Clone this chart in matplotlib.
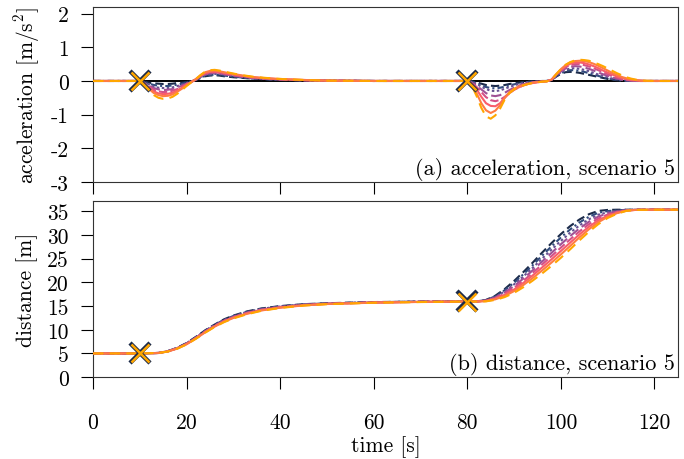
import matplotlib
matplotlib.use("Agg")
import matplotlib.pyplot as plt
import numpy as np

plt.rcParams['font.family'] = ['cmr10', 'DejaVu Serif']
plt.rcParams['mathtext.fontset'] = 'cm'
plt.rcParams['axes.unicode_minus'] = False
plt.rcParams['axes.formatter.use_mathtext'] = False

# ---------------- data ----------------
t_acc = [0, 10, 11, 12, 13, 14, 15, 16, 17, 18, 19, 20, 21,
         22, 23, 24, 25, 26, 27, 28, 30, 32, 34, 37, 40, 45, 50, 60,
         80, 81, 82, 83, 84, 85, 86, 87, 88, 89, 90, 91, 92, 93, 94, 95, 96, 97,
         98, 99, 100, 101, 102, 103, 104, 105, 106, 107, 108, 109, 110, 111, 112,
         113, 114, 115, 116, 117, 118, 120, 125]

acc_0 = [0, 0, -0.02, -0.05, -0.07, -0.08, -0.09, -0.09, -0.08, -0.06, -0.05, -0.03, -0.01,
         0.03, 0.09, 0.14, 0.16, 0.17, 0.16, 0.14, 0.11, 0.09, 0.07, 0.05, 0.03, 0.02, 0.01, 0,
         0, -0.015, -0.045, -0.08, -0.12, -0.14, -0.15, -0.14, -0.12, -0.09, -0.07, -0.05, -0.03, -0.02, -0.01, -0.01, 0, 0,
         0.03, 0.13, 0.21, 0.26, 0.27, 0.26, 0.24, 0.21, 0.18, 0.15, 0.12, 0.09, 0.06, 0.04, 0.02,
         0.01, 0.01, 0, 0, 0, 0, 0, 0]
acc_1 = [0, 0, -0.03, -0.08, -0.12, -0.14, -0.15, -0.15, -0.13, -0.11, -0.08, -0.04, -0.01,
         0.03, 0.10, 0.16, 0.18, 0.19, 0.18, 0.16, 0.13, 0.10, 0.07, 0.05, 0.03, 0.02, 0.01, 0,
         0, -0.02, -0.07, -0.12, -0.18, -0.21, -0.22, -0.20, -0.17, -0.13, -0.10, -0.07, -0.05, -0.03, -0.02, -0.01, -0.01, 0,
         0.03, 0.14, 0.23, 0.29, 0.32, 0.32, 0.30, 0.27, 0.23, 0.19, 0.15, 0.11, 0.08, 0.05, 0.03,
         0.02, 0.01, 0, 0, 0, 0, 0, 0]
acc_2 = [0, 0, -0.05, -0.11, -0.17, -0.20, -0.21, -0.21, -0.19, -0.15, -0.11, -0.06, -0.02,
         0.04, 0.12, 0.18, 0.20, 0.21, 0.20, 0.18, 0.14, 0.11, 0.08, 0.06, 0.04, 0.02, 0.01, 0,
         0, -0.03, -0.09, -0.17, -0.24, -0.29, -0.30, -0.28, -0.23, -0.18, -0.13, -0.09, -0.06, -0.04, -0.03, -0.02, -0.01, 0,
         0.03, 0.15, 0.26, 0.33, 0.37, 0.38, 0.36, 0.33, 0.29, 0.24, 0.19, 0.15, 0.11, 0.07, 0.05,
         0.03, 0.01, 0.01, 0, 0, 0, 0, 0]
acc_3 = [0, 0, -0.06, -0.14, -0.21, -0.25, -0.27, -0.26, -0.24, -0.19, -0.14, -0.08, -0.02,
         0.04, 0.13, 0.20, 0.23, 0.24, 0.23, 0.20, 0.16, 0.12, 0.09, 0.06, 0.04, 0.02, 0.01, 0,
         0, -0.05, -0.14, -0.25, -0.36, -0.43, -0.45, -0.42, -0.35, -0.27, -0.20, -0.14, -0.09, -0.06, -0.04, -0.02, -0.01, 0,
         0.03, 0.16, 0.28, 0.37, 0.42, 0.44, 0.43, 0.40, 0.36, 0.31, 0.25, 0.20, 0.15, 0.10, 0.07,
         0.04, 0.02, 0.01, 0, 0, 0, 0, 0]
acc_4 = [0, 0, -0.08, -0.17, -0.26, -0.31, -0.33, -0.32, -0.29, -0.24, -0.17, -0.09, -0.03,
         0.05, 0.14, 0.22, 0.25, 0.26, 0.24, 0.22, 0.17, 0.14, 0.10, 0.07, 0.05, 0.02, 0.01, 0,
         0, -0.06, -0.18, -0.33, -0.48, -0.57, -0.60, -0.56, -0.47, -0.36, -0.26, -0.19, -0.13, -0.08, -0.05, -0.03, -0.02, -0.01,
         0.04, 0.18, 0.31, 0.41, 0.47, 0.50, 0.50, 0.47, 0.43, 0.38, 0.32, 0.26, 0.20, 0.14, 0.10,
         0.06, 0.04, 0.02, 0.01, 0, 0, 0, 0]
acc_5 = [0, 0, -0.09, -0.21, -0.31, -0.37, -0.39, -0.38, -0.35, -0.28, -0.20, -0.11, -0.03,
         0.05, 0.15, 0.24, 0.27, 0.28, 0.26, 0.24, 0.19, 0.15, 0.11, 0.08, 0.05, 0.03, 0.01, 0,
         0, -0.08, -0.25, -0.47, -0.66, -0.74, -0.75, -0.66, -0.50, -0.36, -0.26, -0.19, -0.13, -0.09, -0.06, -0.04, -0.02, -0.01,
         0.04, 0.19, 0.33, 0.44, 0.51, 0.55, 0.55, 0.53, 0.49, 0.44, 0.38, 0.31, 0.25, 0.19, 0.13,
         0.09, 0.05, 0.03, 0.02, 0.01, 0, 0, 0]
acc_6 = [0, 0, -0.10, -0.24, -0.36, -0.42, -0.45, -0.44, -0.40, -0.32, -0.23, -0.13, -0.04,
         0.06, 0.17, 0.26, 0.30, 0.31, 0.29, 0.26, 0.21, 0.16, 0.12, 0.08, 0.06, 0.03, 0.01, 0,
         0, -0.12, -0.37, -0.66, -0.87, -0.95, -0.88, -0.72, -0.50, -0.33, -0.23, -0.16, -0.12, -0.08, -0.05, -0.03, -0.02, -0.01,
         0.04, 0.20, 0.35, 0.47, 0.55, 0.59, 0.60, 0.59, 0.56, 0.51, 0.45, 0.38, 0.31, 0.24, 0.18,
         0.12, 0.08, 0.05, 0.03, 0.01, 0, 0, 0]
acc_7 = [0, 0, -0.12, -0.28, -0.42, -0.50, -0.53, -0.52, -0.47, -0.38, -0.27, -0.15, -0.04,
         0.06, 0.18, 0.28, 0.32, 0.33, 0.31, 0.28, 0.22, 0.17, 0.13, 0.09, 0.06, 0.03, 0.01, 0,
         0, -0.15, -0.45, -0.80, -1.05, -1.12, -1.02, -0.82, -0.55, -0.36, -0.25, -0.18, -0.13, -0.09, -0.06, -0.04, -0.02, -0.01,
         0.04, 0.20, 0.35, 0.48, 0.56, 0.61, 0.63, 0.62, 0.60, 0.55, 0.50, 0.44, 0.37, 0.30, 0.23,
         0.17, 0.11, 0.07, 0.04, 0.02, 0.01, 0, 0]

t_dist = [0, 10, 14, 16, 18, 20, 22, 24, 26, 28, 30, 33, 36, 40, 45, 50, 60, 70, 80,
          82, 84, 86, 88, 90, 92, 94, 96, 98, 100, 102, 104, 106, 108, 110, 112, 114, 116, 120, 125]

dist_0 = [5, 5, 5.1, 5.5, 6.2, 7.2, 8.5, 9.9, 11.1, 12.2, 13.0, 13.9, 14.5, 15.0, 15.4, 15.6, 15.85, 15.95, 16.0,
          16.0, 16.3, 17.2, 18.6, 20.3, 22.2, 24.2, 26.3, 28.3, 30.2, 31.9, 33.3, 34.4, 35.1, 35.3, 35.35, 35.35, 35.35, 35.35, 35.35]
dist_1 = [5, 5, 5.1, 5.49, 6.17, 7.16, 8.44, 9.83, 11.03, 12.11, 12.91, 13.81, 14.43, 14.94, 15.36, 15.57, 15.83, 15.94, 15.99,
          16.0, 16.26, 17.07, 18.36, 19.94, 21.74, 23.66, 25.67, 27.61, 29.49, 31.2, 32.67, 33.87, 34.7, 35.06, 35.23, 35.31, 35.34, 35.35, 35.35]
dist_2 = [5, 5, 5.1, 5.47, 6.14, 7.11, 8.39, 9.76, 10.96, 12.03, 12.83, 13.73, 14.36, 14.89, 15.31, 15.54, 15.81, 15.93, 15.99,
          16.0, 16.21, 16.94, 18.11, 19.59, 21.29, 23.11, 25.04, 26.93, 28.77, 30.5, 32.04, 33.34, 34.3, 34.81, 35.11, 35.28, 35.34, 35.35, 35.35]
dist_3 = [5, 5, 5.1, 5.46, 6.11, 7.07, 8.33, 9.69, 10.89, 11.94, 12.74, 13.64, 14.29, 14.83, 15.27, 15.51, 15.79, 15.91, 15.98,
          15.98, 16.17, 16.81, 17.87, 19.23, 20.83, 22.57, 24.41, 26.24, 28.06, 29.8, 31.41, 32.81, 33.9, 34.57, 34.99, 35.24, 35.33, 35.35, 35.35]
dist_4 = [5, 5, 5.1, 5.44, 6.09, 7.03, 8.27, 9.61, 10.81, 11.86, 12.66, 13.56, 14.21, 14.77, 15.23, 15.49, 15.76, 15.9, 15.97,
          15.97, 16.13, 16.69, 17.63, 18.87, 20.37, 22.03, 23.79, 25.56, 27.34, 29.1, 30.79, 32.29, 33.5, 34.33, 34.87, 35.21, 35.32, 35.35, 35.35]
dist_5 = [5, 5, 5.1, 5.43, 6.06, 6.99, 8.21, 9.54, 10.74, 11.77, 12.57, 13.47, 14.14, 14.71, 15.19, 15.46, 15.74, 15.89, 15.96,
          15.97, 16.09, 16.56, 17.39, 18.51, 19.91, 21.49, 23.16, 24.87, 26.63, 28.4, 30.16, 31.76, 33.1, 34.09, 34.74, 35.17, 35.31, 35.35, 35.35]
dist_6 = [5, 5, 5.1, 5.41, 6.03, 6.94, 8.16, 9.47, 10.67, 11.69, 12.49, 13.39, 14.07, 14.66, 15.14, 15.43, 15.72, 15.87, 15.96,
          15.96, 16.04, 16.43, 17.14, 18.16, 19.46, 20.94, 22.53, 24.19, 25.91, 27.7, 29.53, 31.23, 32.7, 33.84, 34.62, 35.14, 35.31, 35.35, 35.35]
dist_7 = [5, 5, 5.1, 5.4, 6.0, 6.9, 8.1, 9.4, 10.6, 11.6, 12.4, 13.3, 14.0, 14.6, 15.1, 15.4, 15.7, 15.85, 15.95,
          15.95, 16.0, 16.3, 16.9, 17.8, 19.0, 20.4, 21.9, 23.5, 25.2, 27.0, 28.9, 30.7, 32.3, 33.6, 34.5, 35.1, 35.3, 35.35, 35.35]

event_times = [10, 80]
acc_series = [acc_0, acc_1, acc_2, acc_3, acc_4, acc_5, acc_6, acc_7]
dist_series = [dist_0, dist_1, dist_2, dist_3, dist_4, dist_5, dist_6, dist_7]

x_ticks = [0, 20, 40, 60, 80, 100, 120]
acc_ticks = [-3, -2, -1, 0, 1, 2]
dist_ticks = [0, 5, 10, 15, 20, 25, 30, 35]

# ---------------- style ----------------
colors = ['#1b2a49', '#2f4b7c', '#665191', '#a05195', '#d45087', '#f95d6a', '#ff7c43', '#ffa600']
styles = [(0, (4, 2)), (0, (3, 1.5, 1, 1.5)), (0, (1.2, 1.2)), (0, (5, 2)),
          (0, (4, 1.5)), '-', '-', (0, (5, 3))]
lw = 1.5
fs = 15.5

fig = plt.figure(figsize=(6.84, 4.6), dpi=100)
ax1 = fig.add_axes([0.136, 0.602, 0.855, 0.381])
ax2 = fig.add_axes([0.136, 0.178, 0.855, 0.383])

ax1.axhline(0, color='black', lw=1.4, zorder=1.5)
for i in range(8):
    ax1.plot(t_acc, acc_series[i], color=colors[i], ls=styles[i], lw=lw, zorder=2 + i)
    ax2.plot(t_dist, dist_series[i], color=colors[i], ls=styles[i], lw=lw, zorder=2 + i)

for i in (0, 7):
    for te in event_times:
        ya = acc_series[i][t_acc.index(te)]
        yd = dist_series[i][t_dist.index(te)]
        ms = 14 if i == 0 else 13
        mw = 3.2 if i == 0 else 1.8
        ax1.plot([te], [ya], marker='x', color=colors[i], ms=ms, mew=mw, zorder=20 + i, ls='none')
        ax2.plot([te], [yd], marker='x', color=colors[i], ms=ms, mew=mw, zorder=20 + i, ls='none')

for ax in (ax1, ax2):
    ax.set_xlim(0, 125)
    ax.set_xticks(x_ticks)
    ax.tick_params(direction='out', length=8.6, width=0.8, labelsize=fs, top=False, right=False)
    ax.tick_params(axis='x', pad=17)
    ax.tick_params(axis='y', pad=9)
    for s in ax.spines.values():
        s.set_linewidth(0.8)
        s.set_color('#333333')

ax1.set_ylim(-3, 2.2)
ax1.set_yticks(acc_ticks)
ax1.tick_params(axis='x', labelbottom=False)
ax2.set_ylim(0, 37.2)
ax2.set_yticks(dist_ticks)

ax1.set_ylabel('acceleration [m/s$^2$]', fontsize=fs, labelpad=6)
ax2.set_ylabel('distance [m]', fontsize=fs, labelpad=6)
ax2.set_xlabel('time [s]', fontsize=fs, labelpad=2)

ax1.text(0.995, 0.012, '(a) acceleration, scenario 5', transform=ax1.transAxes,
         ha='right', va='bottom', fontsize=fs + 0.5)
ax2.text(0.995, 0.012, '(b) distance, scenario 5', transform=ax2.transAxes,
         ha='right', va='bottom', fontsize=fs + 0.5)

fig.savefig('out.png', dpi=100)
